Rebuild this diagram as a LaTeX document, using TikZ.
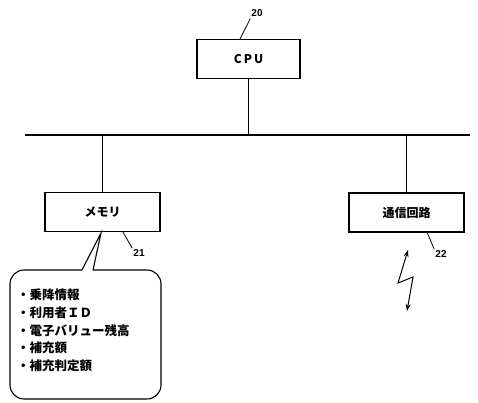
\documentclass[tikz,border=0pt]{standalone}
\usepackage{fontspec}
\setmainfont{Liberation Sans}
\newfontfamily\cjk{Noto Sans CJK JP}
\usetikzlibrary{arrows.meta}
\tikzset{
  blk/.style={draw, line width=1.3pt, fill=white, minimum width=#1, minimum height=39pt, inner sep=0pt, font=\cjk\bfseries\fontsize{12}{14}\selectfont},
  blk/.default=115pt,
  wire/.style={line width=1.1pt},
  lead/.style={line width=0.8pt},
  refnum/.style={font=\bfseries\fontsize{10}{11}\selectfont, inner sep=1pt},
}
\begin{document}
\begin{tikzpicture}[x=1pt,y=-1pt]
\useasboundingbox[fill=white] (0,0) rectangle (478,403);
% boxes
\node[blk=103pt] (cpu) at (248.5,59) {\fontsize{12}{14}\selectfont C\,P\,U};
\node[blk] (mem) at (102.5,212) {メモリ};
\node[blk] (com) at (406.5,212.5) {通信回路};
% bus
\coordinate (busL) at (25,135);
\coordinate (busR) at (470,135);
\coordinate (bcpu) at (cpu.south |- busL);
\coordinate (bmem) at (mem.north |- busL);
\coordinate (bcom) at (com.north |- busL);
\draw[wire] (busL) -- (busR);
\draw[wire] (cpu.south) -- (bcpu);
\draw[wire] (bmem) -- (mem.north);
\draw[wire] (bcom) -- (com.north);
% reference numerals
\node[refnum] (n20) at (257,13) {20};
\node[refnum] (n21) at (139,253) {21};
\node[refnum] (n22) at (441,254) {22};
\draw[lead] (n20.south west) ++(0,1) -- (240,39);
\draw[lead] (123,232) -- (n21.north west);
\draw[lead] (427,232) -- (n22.north west);
% callout
\coordinate (tip) at (101,233);
\draw[line width=1.1pt, rounded corners=14pt]
  (82,270) -- (10,270) -- (10,399) -- (161,399) -- (161,270) -- (93,270);
\draw[line width=1.1pt] (82,270) -- (tip) -- (93,270);
\node[anchor=north west, align=left, inner sep=0pt, font=\cjk\bfseries\fontsize{12.5}{17.6}\selectfont] (list) at (17,289)
  {・乗降情報\\・利用者ＩＤ\\・電子バリュー残高\\・補充額\\・補充判定額};
% lightning
\coordinate (lt) at (408,250);
\coordinate (lb) at (407,311);
\draw[line width=1pt, {Stealth[length=7pt,width=5pt]}-{Stealth[length=7pt,width=5pt]}]
  (lt) -- (398,283) -- (413,277) -- (lb);
\end{tikzpicture}
\end{document}
